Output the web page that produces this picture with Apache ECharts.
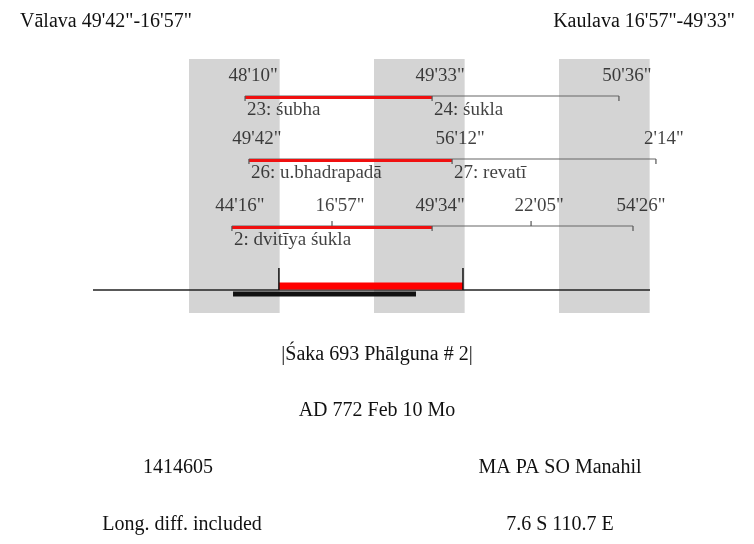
<!DOCTYPE html><html><head><meta charset="utf-8"><script src="https://cdn.jsdelivr.net/npm/echarts@6/dist/echarts.min.js"></script>
<style>html,body{margin:0;background:#fff}#c{width:754px;height:544px}</style></head><body><div id="c"></div><script>
// x unit: one day (shaded bands = nights), y: row position
const bands=[[0,0.49],[1,1.49],[2,2.49]];
const rowY=[96,159,226];
const row1=[0.303,1.314,2.324];
const row2=[0.324,1.422,2.524];
const row3=[0.232,0.773,1.314,1.849,2.4];
const row1Labels=["48'10\"","49'33\"","50'36\""];
const row2Labels=["49'42\"","56'12\"","2'14\""];
const row3Labels=["44'16\"","16'57\"","49'34\"","22'05\"","54'26\""];
const row1Names=["23: śubha","24: śukla"];
const row2Names=["26: u.bhadrapadā","27: revatī"];
const row3Names=["2: dvitīya śukla"];
const baseLine=[-0.519,2.492];
const redBar=[0.486,1.481];
const blackBar=[0.238,1.227];
const ser=[];
const F='"Liberation Serif",serif';
function seg(x0,x1,y,color,w){return {type:'line',data:[[x0,y],[x1,y]],symbol:'none',lineStyle:{color:color,width:w},silent:true,z:3};}
function tick(x,y,h,color,w){return {type:'line',data:[[x,y],[x,y+h]],symbol:'none',lineStyle:{color:color||'#555',width:w||1.2},silent:true,z:3};}
function rowSeries(xs,y,redEnd,labels,names){
  ser.push(seg(xs[0],xs[xs.length-1],y,'#666',1.2));
  ser.push(seg(xs[0],xs[redEnd],y+1.5,'#f01010',3));
  xs.forEach((x,i)=>{ if(i==0||i==xs.length-1||i==redEnd) ser.push(tick(x,y,5)); else ser.push(tick(x,y-5,5));});
  ser.push({type:'scatter',symbolSize:0,silent:true,z:5,data:xs.map((x,i)=>({value:[x,y-20],label:{show:true,formatter:labels[i],position:'inside',offset:[8,0],fontFamily:F,fontSize:19,color:'#111'}}))});
  const starts=[xs[0],xs[redEnd]];
  ser.push({type:'scatter',symbolSize:0,silent:true,z:5,data:names.map((n,i)=>({value:[starts[i],y+14],label:{show:true,formatter:n,position:'inside',align:'left',offset:[2,0],fontFamily:F,fontSize:19,color:'#111'}}))});
}
rowSeries(row1,rowY[0],1,row1Labels,row1Names);
rowSeries(row2,rowY[1],1,row2Labels,row2Names);
rowSeries(row3,rowY[2],2,row3Labels,row3Names);
ser.push(seg(baseLine[0],baseLine[1],290,'#222',1.5));
ser.push(seg(redBar[0],redBar[1],286,'#f00',7));
ser.push(seg(blackBar[0],blackBar[1],294,'#111',5));
ser.push(tick(redBar[0],268,22,'#111',1.5));ser.push(tick(redBar[1],268,22,'#111',1.5));
ser[0].markArea={silent:true,itemStyle:{color:'#d4d4d4'},data:bands.map(b=>[{xAxis:b[0],yAxis:59},{xAxis:b[1],yAxis:313}])};
const texts=[["Vālava 49'42\"-16'57\"",20,22,'left'],["Kaulava 16'57\"-49'33\"",735,22,'right'],["|Śaka 693 Phālguna # 2|",377,355,'center'],["AD 772 Feb 10 Mo",377,411,'center'],["1414605",178,468,'center'],["MA PA SO Manahil",560,468,'center'],["Long. diff. included",182,525,'center'],["7.6 S 110.7 E",560,525,'center']];
const chart=echarts.init(document.getElementById('c'));
chart.setOption({animation:false,
 grid:{left:0,right:0,top:0,bottom:0},
 xAxis:{type:'value',min:(0-189)/185,max:(754-189)/185,show:false},
 yAxis:{type:'value',min:0,max:544,inverse:true,show:false},
 series:ser,
 graphic:texts.map(t=>({type:'text',x:t[1],y:t[2],style:{text:t[0],fontFamily:F,fontSize:20,fill:'#111',align:t[3],verticalAlign:'middle'}}))
});
</script></body></html>
